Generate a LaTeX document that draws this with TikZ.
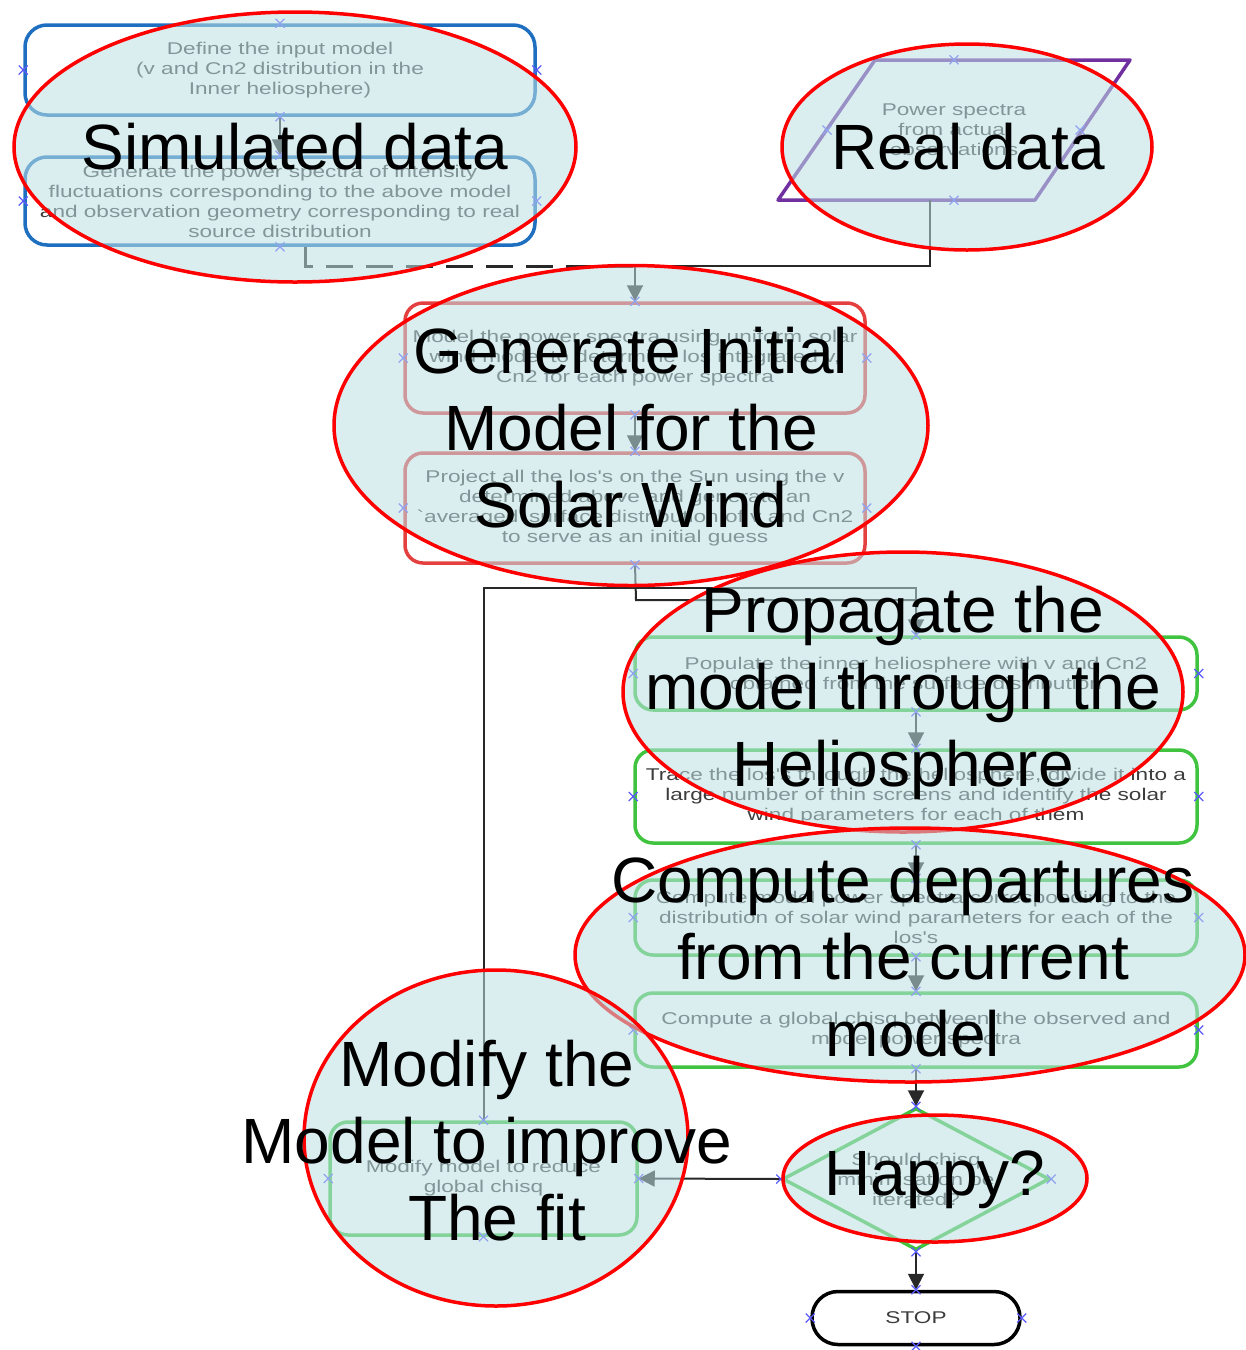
\documentclass[tikz,border=0pt]{standalone}
\usepackage{fontspec}
\setmainfont{Liberation Sans}
\newfontfamily\smallf[FakeStretch=1.33]{Liberation Sans}
\usetikzlibrary{shapes.geometric,shapes.misc,arrows.meta}
\definecolor{ellfill}{RGB}{188,224,228}
\definecolor{bblue}{RGB}{31,111,192}
\definecolor{ppurple}{RGB}{112,48,160}
\definecolor{rred}{RGB}{228,64,64}
\definecolor{ggreen}{RGB}{64,196,64}
\definecolor{txtgray}{RGB}{60,60,60}
\definecolor{xblue}{RGB}{90,90,255}
\definecolor{conncol}{RGB}{40,40,40}
\newcommand\xmk[1]{\draw[xmark] (#1) +(-4.5,-4.5) -- +(4.5,4.5) +(-4.5,4.5) -- +(4.5,-4.5);}
\begin{document}
\begin{tikzpicture}[x=1pt,y=-1pt,
  smalltxt/.style={font=\smallf\fontsize{17}{20}\selectfont, text=txtgray, align=center, inner sep=0pt},
  bluebox/.style={draw=bblue, line width=3.5pt, rounded corners=22pt, smalltxt},
  redbox/.style={draw=rred, line width=3.5pt, rounded corners=18pt, smalltxt},
  greenbox/.style={draw=ggreen, line width=3.5pt, rounded corners=18pt, smalltxt},
  conn/.style={draw=conncol, line width=2pt},
  arr/.style={conn, -{Triangle[length=16pt,width=16pt]}},
  xmark/.style={draw=xblue, line width=1.2pt},
  ellbg/.style={ellipse, draw=red, line width=3.5pt, fill=ellfill, fill opacity=0.55, inner sep=0pt},
  bigtxt/.style={font=\fontsize{64}{77}\selectfont, align=center, inner sep=0pt, text=black}]
\useasboundingbox (0,0) rectangle (1246,1350);

% ---------- flowchart ----------
\node[bluebox, minimum width=510, minimum height=90] (b1) at (280,70)
  {Define the input model\\(v and Cn2 distribution in the\\Inner heliosphere)};
\node[bluebox, minimum width=510, minimum height=88] (b2) at (280,201)
  {Generate the power spectra of intensity\\fluctuations corresponding to the above model\\and observation geometry corresponding to real\\source distribution};
\node[minimum width=352, minimum height=140, smalltxt] (pd) at (954,130)
  {Power spectra\\from actual\\observations};
\draw[draw=ppurple, line width=3.5pt, line join=round] (875,60) -- (1130,60) -- (1035,200) -- (778,200) -- cycle;
\node[redbox, minimum width=460, minimum height=110] (r1) at (635,358)
  {Model the power spectra using uniform solar\\wind model to determine los integrated v,\\Cn2 for each power spectra};
\node[redbox, minimum width=460, minimum height=110] (r2) at (635,508)
  {Project all the los's on the Sun using the v\\determined above and generate an\\`averaged' surface distribution of v and Cn2\\to serve as an initial guess};
\node[greenbox, minimum width=562, minimum height=73] (g1) at (916,673.5)
  {Populate the inner heliosphere with v and Cn2\\obtained from the surface distribution};
\node[greenbox, minimum width=562, minimum height=93] (g2) at (916,796.5)
  {Trace the los's through the heliosphere, divide it into a\\large number of thin screens and identify the solar\\wind parameters for each of them};
\node[greenbox, minimum width=562, minimum height=75] (g3) at (916,917.5)
  {Compute model power spectra corresponding to the\\distribution of solar wind parameters for each of the\\los's};
\node[greenbox, minimum width=562, minimum height=74] (g4) at (916,1030)
  {Compute a global chisq between the observed and\\model power spectra};
\node[diamond, draw=ggreen, line width=3.5pt, minimum width=267, minimum height=142, inner sep=0pt] (dia) at (916,1179) {};
\node[smalltxt] (diat) at (dia.center) {Should chisq\\minimisation be\\iterated?};
\node[greenbox, minimum width=307, minimum height=113] (mod) at (483.5,1178.5)
  {Modify model to reduce\\global chisq};
\node[draw=black, line width=3.5pt, rounded corners=26pt, minimum width=208, minimum height=53, smalltxt] (stop) at (916,1318) {STOP};

% ---------- connectors ----------
\coordinate (b2out) at ([xshift=25]b2.south);
\coordinate (pdout) at ([xshift=-24]pd.south);
\coordinate (jt) at (635,266);
\coordinate (jr) at (636,600);
\coordinate (jl) at (916,588);
\draw[arr] (b1.south) -- (b2.north);
\draw[conn, line width=3pt, dash pattern=on 27pt off 13pt] (b2out) |- (jt);
\draw[conn] (pdout) |- (jt);
\draw[arr] (jt) -- (r1.north);
\draw[arr] (r1.south) -- (r2.north);
\draw[conn] (mod.north) |- (jl) -- (jl |- jr);
\draw[arr] (r2.south) -- (jr) -| (g1.north);
\draw[arr] (g1.south) -- (g2.north);
\draw[arr] (g2.south) -- (g3.north);
\draw[arr] (g3.south) -- (g4.north);
\draw[arr] (g4.south) -- (dia.north);
\draw[arr] (dia.west) -- (mod.east);
\draw[arr] (dia.south) -- (stop.north);

% ---------- connection markers ----------
\foreach \n in {b1,b2,r1,r2,g1,g2,g3,g4,mod,dia,stop}{
  \xmk{\n.north}\xmk{\n.south}\xmk{\n.west}\xmk{\n.east}}
\xmk{pd.north}\xmk{pd.south}
\xmk{827,130}\xmk{1080,130}

% ---------- overlay ellipses ----------
\node[ellbg, minimum width=562, minimum height=270] (e1) at (295,147) {};
\node[bigtxt] (t1) at (e1.center) {Simulated data};
\node[ellbg, minimum width=370, minimum height=206] (e2) at (967,147) {};
\node[bigtxt] (t2) at (968,147) {Real data};
\node[ellbg, minimum width=594, minimum height=320] (e3) at (631,425.5) {};
\node[bigtxt] (t3) at (631,428) {Generate Initial\\Model for the\hspace*{18pt}\\Solar Wind};
\node[ellbg, minimum width=560, minimum height=280] (e4) at (903,692) {};
\node[bigtxt] (t4) at (903,693) {Propagate the\\model through the\\Heliosphere};
\node[ellbg, minimum width=670, minimum height=254] (e5) at (910,955) {};
\node[bigtxt] (t5) at (903,957) {Compute departures\\from the current\\\hspace*{20pt}model};
\node[ellbg, minimum width=384, minimum height=336] (e6) at (496,1138) {};
\node[bigtxt] (t6) at (487,1141) {Modify the\\Model to improve\\\hspace*{20pt}The fit};
\node[ellbg, minimum width=304, minimum height=127] (e7) at (935,1178.5) {};
\node[bigtxt] (t7) at (935,1180) {Happy?};
\end{tikzpicture}
\end{document}
